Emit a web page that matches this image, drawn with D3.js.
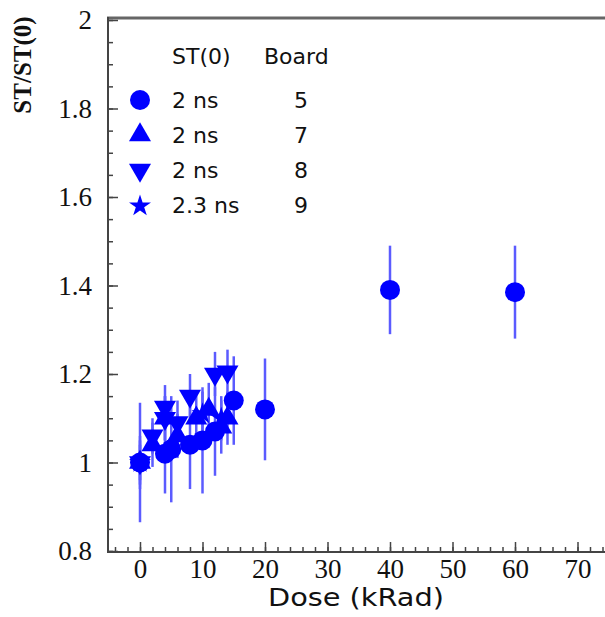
<!DOCTYPE html>
<html>
<head>
<meta charset="utf-8">
<script src="https://cdn.jsdelivr.net/npm/d3@7"></script>
<style>
  body { margin: 0; background: #fff; }
  svg { display: block; }
  .tick text { font-family: "Liberation Serif", "Times New Roman", serif; font-size: 27px; fill: #111; }
</style>
</head>
<body>
<svg width="605" height="617"></svg>
<script>
// board 5 (circles)
const doseB5 = [0, 4, 5, 8, 10, 12, 15, 20, 40, 60]
const ratioB5 = [1.00, 1.02, 1.03, 1.04, 1.05, 1.07, 1.14, 1.12, 1.39, 1.385]
const errB5 = [0.135, 0.09, 0.12, 0.10, 0.12, 0.10, 0.10, 0.115, 0.10, 0.105]

// board 7 (triangles up)
const doseB7 = [0, 2, 4, 6, 9, 11, 13, 14]
const ratioB7 = [1.00, 1.04, 1.10, 1.06, 1.10, 1.12, 1.08, 1.10]
const errB7 = [0.06, 0.05, 0.05, 0.05, 0.06, 0.06, 0.06, 0.06]

// board 8 (triangles down)
const doseB8 = [0, 2, 4, 4, 6, 8, 12, 14]
const ratioB8 = [1.00, 1.06, 1.125, 1.10, 1.09, 1.15, 1.20, 1.205]
const errB8 = [0.05, 0.04, 0.05, 0.05, 0.05, 0.05, 0.05, 0.05]

// board 9 (stars)
const doseB9 = [0, 10, 13]
const ratioB9 = [1.00, 1.11, 1.10]
const errB9 = [0.04, 0.05, 0.05]

const legendST = ["2 ns", "2 ns", "2 ns", "2.3 ns"]
const legendBoard = ["5", "7", "8", "9"]

const xMajor = [0, 10, 20, 30, 40, 50, 60, 70]
const yMajor = [0.8, 1, 1.2, 1.4, 1.6, 1.8, 2]

var svg = d3.select("svg")

var x = d3.scaleLinear().domain([-5.12, 76.8]).range([108, 620])
var y = d3.scaleLinear().domain([0.8, 2.0]).range([551, 20])

const blue = "#0000ff", barBlue = "#5b5bff"

const series = [
  {dose: doseB5, ratio: ratioB5, err: errB5, shape: "circle"},
  {dose: doseB7, ratio: ratioB7, err: errB7, shape: "up"},
  {dose: doseB8, ratio: ratioB8, err: errB8, shape: "down"},
  {dose: doseB9, ratio: ratioB9, err: errB9, shape: "star"}
]

function marker(sel, shape) {
  if (shape === "circle") {
    sel.append("circle").attr("r", 10).attr("fill", blue)
  } else if (shape === "star") {
    sel.append("path").attr("d", d3.symbol(d3.symbolStar, 150)()).attr("fill", blue)
  } else {
    sel.append("path")
      .attr("d", d3.symbol(d3.symbolTriangle, 210)())
      .attr("transform", shape === "down" ? "rotate(180)" : null)
      .attr("fill", blue)
  }
}

// axes frame: top line
svg.append("line")
  .attr("x1", 107).attr("x2", 605).attr("y1", 18).attr("y2", 18)
  .attr("stroke", "#666").attr("stroke-width", 3)

// x axis minor + major
svg.append("g").attr("transform", "translate(0,552)")
  .call(d3.axisBottom(x).tickValues(d3.range(-4, 77, 2)).tickSize(-5).tickFormat(""))
  .call(g => g.select(".domain").remove())
svg.append("g").attr("transform", "translate(0,552)")
  .call(d3.axisBottom(x).tickValues(xMajor).tickSize(-10).tickPadding(7).tickFormat(d3.format("d")))
  .call(g => g.select(".domain").remove())

// y axis minor + major
svg.append("g").attr("transform", "translate(108,0)")
  .call(d3.axisLeft(y).tickValues(d3.range(0.8, 2.001, 0.05)).tickSize(-5).tickFormat(""))
  .call(g => g.select(".domain").remove())
svg.append("g").attr("transform", "translate(108,0)")
  .call(d3.axisLeft(y).tickValues(yMajor).tickSize(-10).tickPadding(16).tickFormat(d => d3.format("")(+d.toFixed(1))))
  .call(g => g.select(".domain").remove())

svg.selectAll(".tick line").attr("stroke", "#444").attr("stroke-width", 1.5)

// axis lines
svg.append("path")
  .attr("d", "M108,17V552H605")
  .attr("fill", "none").attr("stroke", "#444").attr("stroke-width", 2)

// error bars
series.forEach(s => {
  svg.append("g").selectAll("line")
    .data(s.dose)
    .enter().append("line")
      .attr("x1", d => x(d)).attr("x2", d => x(d))
      .attr("y1", (d, i) => y(s.ratio[i] + s.err[i]))
      .attr("y2", (d, i) => y(s.ratio[i] - s.err[i]))
      .attr("stroke", barBlue).attr("stroke-width", 2.5)
})

// markers
series.forEach(s => {
  s.dose.forEach((d, i) => {
    var g = svg.append("g").attr("transform", "translate(" + x(d) + "," + y(s.ratio[i]) + ")")
    marker(g, s.shape)
  })
})

// legend
const legendFont = "'DejaVu Sans', sans-serif"
svg.append("text").attr("x", 172).attr("y", 64).text("ST(0)")
  .style("font-family", legendFont).style("font-size", "22px").attr("fill", "#111")
svg.append("text").attr("x", 264).attr("y", 64).text("Board")
  .style("font-family", legendFont).style("font-size", "22px").attr("fill", "#111")

series.forEach((s, i) => {
  var cy = 100 + i * 35
  var g = svg.append("g").attr("transform", "translate(140," + (cy + (s.shape === "star" ? 1 : 0)) + ")")
  marker(g, s.shape)
  svg.append("text").attr("x", 172).attr("y", cy + 8).text(legendST[i])
    .style("font-family", legendFont).style("font-size", "22px").attr("fill", "#111")
  svg.append("text").attr("x", 301).attr("y", cy + 8).attr("text-anchor", "middle").text(legendBoard[i])
    .style("font-family", legendFont).style("font-size", "22px").attr("fill", "#111")
})

// axis titles
svg.append("text")
  .attr("x", 268).attr("y", 606)
  .attr("textLength", 176).attr("lengthAdjust", "spacingAndGlyphs")
  .style("font-family", legendFont).style("font-size", "24px").attr("fill", "#111")
  .text("Dose (kRad)")

svg.append("text")
  .attr("transform", "translate(31,65) rotate(-90)")
  .attr("text-anchor", "middle")
  .style("font-family", "'Liberation Serif', serif").style("font-size", "25px").style("font-weight", "bold")
  .attr("fill", "#111")
  .text("ST/ST(0)")
</script>
</body>
</html>
